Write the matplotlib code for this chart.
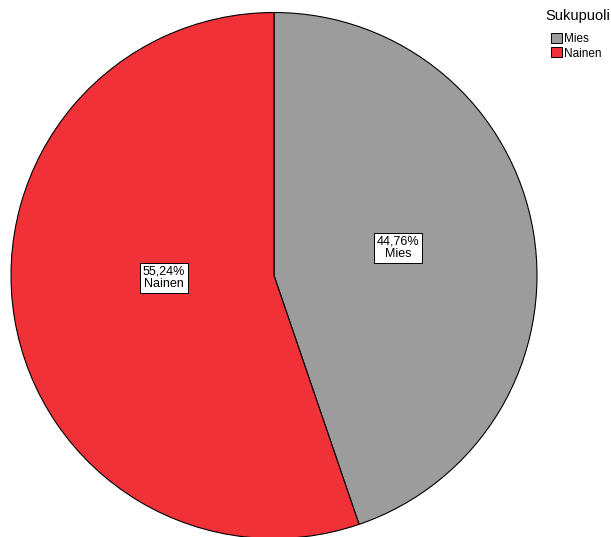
import matplotlib.pyplot as plt
import matplotlib.patches as mpatches

plt.rcParams['font.family'] = ['Liberation Sans', 'DejaVu Sans']

# data
categories = ["Mies", "Nainen"]
percents = [44.76, 55.24]
colors = ["#9c9c9c", "#f03238"]

fig = plt.figure(figsize=(6.11, 5.37), dpi=100)
# pie: center ~ (274, 275) px, radius ~263 px
r_px = 263
ax = fig.add_axes([(274 - r_px) / 611, (537 - 275.5 - r_px) / 537,
                   2 * r_px / 611, 2 * r_px / 537])
wedges, _ = ax.pie(percents, colors=colors, startangle=90, counterclock=False,
                   wedgeprops=dict(edgecolor="black", linewidth=0.8))
ax.set_xlim(-1, 1)
ax.set_ylim(-1, 1)
ax.set_aspect("auto")
ax.axis("off")

# labels inside slices
label_pos = [(0.471, 0.105), (-0.418, -0.01)]
for cat, p, (lx, ly) in zip(categories, percents, label_pos):
    txt = f"{p:.2f}%".replace(".", ",") + "\n" + cat
    ax.text(lx, ly, txt, ha="center", va="center",
            fontsize=9, linespacing=1.05,
            bbox=dict(boxstyle="square,pad=0.22", facecolor="white",
                      edgecolor="black", linewidth=0.7))

# legend
fig.text(545 / 611, 1 - 16 / 537, "Sukupuoli", fontsize=10.5,
         ha="left", va="center")
handles = [mpatches.Patch(facecolor=c, edgecolor="black", linewidth=0.7, label=l)
           for c, l in zip(colors, categories)]
leg = fig.legend(handles=handles, loc="upper left",
                 bbox_to_anchor=(551 / 611, 1 - 33 / 537), frameon=False,
                 fontsize=8.5, handlelength=0.93, handleheight=0.93,
                 handletextpad=0.15, labelspacing=0.2,
                 borderaxespad=0, borderpad=0)

fig.savefig("out.png", dpi=100)
